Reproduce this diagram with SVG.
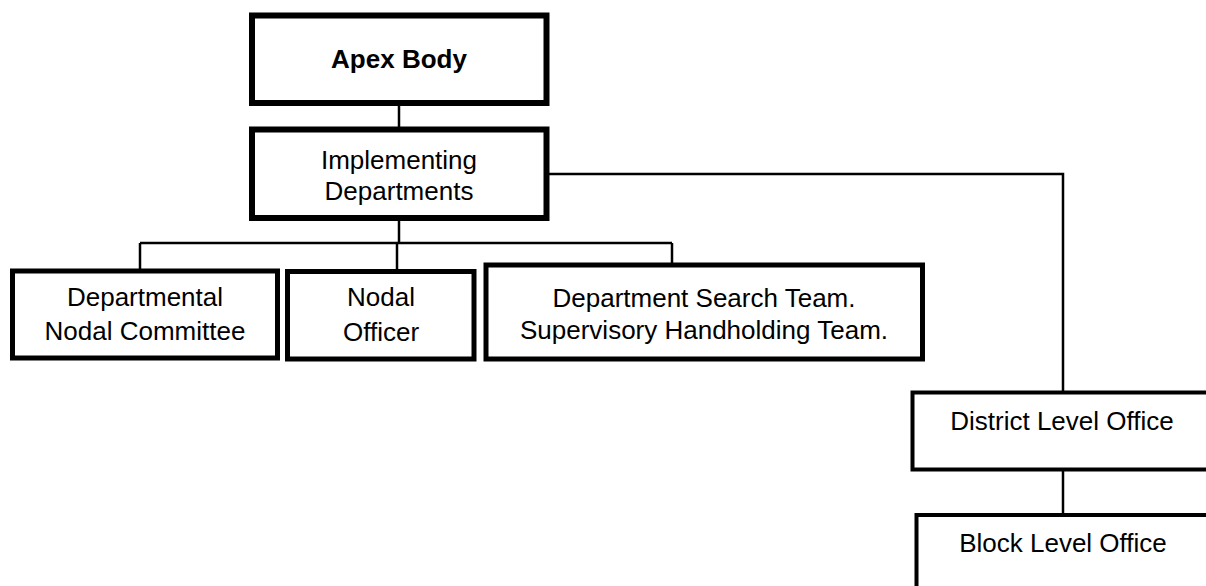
<svg xmlns="http://www.w3.org/2000/svg" width="1206" height="586" viewBox="0 0 1206 586">
<style>
.box{fill:#fff;stroke:#000;}
.thick{stroke-width:6;}
.mid{stroke-width:5;}
.thin{stroke-width:4;}
.conn{fill:none;stroke:#000;stroke-width:2.5;}
text{font-family:"Liberation Sans",Arial,sans-serif;font-size:26px;fill:#000;text-anchor:middle;}
.b{font-weight:bold;}
</style>
<rect width="1206" height="586" fill="#fff"/>
<g id="connectors">
<path class="conn" d="M399,103 V129"/>
<path class="conn" d="M399,218 V243"/>
<path class="conn" d="M140,243 H672"/>
<path class="conn" d="M140,243 V271"/>
<path class="conn" d="M397,243 V271"/>
<path class="conn" d="M672,243 V265"/>
<path class="conn" d="M549,174 H1063 V392"/>
<path class="conn" d="M1063,470 V515"/>
</g>
<g id="apex">
<rect class="box thick" x="252" y="15.5" width="294.5" height="87.5"/>
<text class="b" x="399" y="68">Apex Body</text>
</g>
<g id="implementing">
<rect class="box thick" x="252" y="129.5" width="294.5" height="88.5"/>
<text x="399" y="169">Implementing</text>
<text x="399" y="200">Departments</text>
</g>
<g id="departmental">
<rect class="box mid" x="12.5" y="271" width="265" height="87"/>
<text x="145" y="306">Departmental</text>
<text x="145" y="340">Nodal Committee</text>
</g>
<g id="nodal">
<rect class="box mid" x="287.5" y="271.5" width="186.5" height="87.5"/>
<text x="381" y="306">Nodal</text>
<text x="381" y="341">Officer</text>
</g>
<g id="search">
<rect class="box mid" x="486" y="265" width="436.5" height="94"/>
<text x="704" y="307">Department Search Team.</text>
<text x="704" y="339">Supervisory Handholding Team.</text>
</g>
<g id="district">
<rect class="box thin" x="912.5" y="392.5" width="310" height="77"/>
<text x="1062" y="430">District Level Office</text>
</g>
<g id="block">
<rect class="box thin" x="916.5" y="515" width="310" height="100"/>
<text x="1063" y="552">Block Level Office</text>
</g>
</svg>
